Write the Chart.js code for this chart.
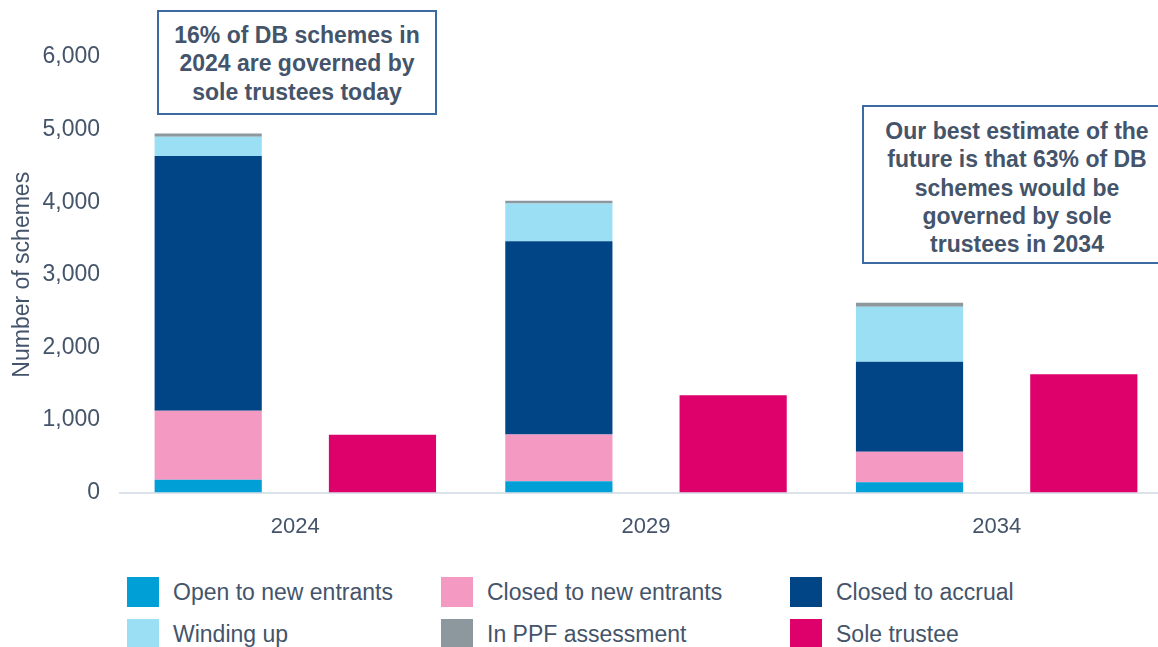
<!DOCTYPE html>
<html>
<head>
<meta charset="utf-8">
<script src="https://cdn.jsdelivr.net/npm/chart.js@4.4.1/dist/chart.umd.min.js"></script>
<style>
    body {
        margin: 0;
        width: 1158px;
        height: 647px;
        overflow: hidden;
        background: #ffffff;
        font-family: "Liberation Sans", Arial, sans-serif;
    }
    #wrap {
        position: relative;
        width: 1172px;
        height: 647px;
    }
    #chart {
        position: absolute;
        left: 0;
        top: 0;
    }
    .note {
        position: absolute;
        box-sizing: border-box;
        border: 2px solid #3d6aa3;
        background: #ffffff;
        color: #44546a;
        font-weight: bold;
        font-size: 23px;
        line-height: 28.3px;
        text-align: center;
    }
    .legend-item {
        position: absolute;
        height: 30px;
        display: flex;
        align-items: center;
        color: #44546a;
        font-size: 23px;
        white-space: nowrap;
    }
    .legend-item span.box {
        display: inline-block;
        width: 32px;
        height: 30px;
        margin-right: 14px;
    }
</style>
</head>
<body>
<div id="wrap">
    <canvas id="chart" width="1172" height="560"></canvas>

    <div class="note" style="left:157px; top:10px; width:280px; height:105px; padding-top:9px;">
        16% of DB schemes in<br>2024 are governed by<br>sole trustees today
    </div>
    <div class="note" style="left:862px; top:105px; width:310px; height:159px; padding-top:10px;">
        Our best estimate of the<br>future is that 63% of DB<br>schemes would be<br>governed by sole<br>trustees in 2034
    </div>

    <div id="legend"></div>
</div>

<script>
// Valores (número de esquemas)
const years = ['2024', '2029', '2034'];
const openNew = [175, 155, 140];
const closedNew = [950, 645, 420];
const closedAccrual = [3510, 2660, 1240];
const windingUp = [265, 520, 760];
const ppfAssessment = [45, 40, 55];
const soleTrustee = [795, 1340, 1630];

const seriesNames = [
    'Open to new entrants', 'Closed to new entrants', 'Closed to accrual',
    'Winding up', 'In PPF assessment', 'Sole trustee'
];
const seriesColors = ['#00a0d7', '#f49ac2', '#014587', '#9bdff4', '#8d979e', '#de006b'];

const textColor = '#44546a';

const ctx = document.getElementById('chart');

const datasets = [openNew, closedNew, closedAccrual, windingUp, ppfAssessment].map((values, i) => ({
    label: seriesNames[i],
    data: values,
    backgroundColor: seriesColors[i],
    stack: 'schemes'
}));
datasets.push({
    label: seriesNames[5],
    data: soleTrustee,
    backgroundColor: seriesColors[5],
    stack: 'sole'
});

const chart = new Chart(ctx, {
    type: 'bar',
    data: {
        labels: years,
        datasets: datasets
    },
    options: {
        responsive: false,
        animation: false,
        categoryPercentage: 0.994,
        barPercentage: 0.615,
        layout: {
            padding: { top: 57, left: 0, right: 0, bottom: 0 }
        },
        plugins: {
            legend: { display: false },
            tooltip: { enabled: false }
        },
        scales: {
            x: {
                stacked: true,
                grid: { display: false, drawTicks: false },
                border: { display: true, color: '#dbe2ea', width: 2 },
                ticks: {
                    color: textColor,
                    padding: 21,
                    font: { family: 'Liberation Sans', size: 22 }
                },
                afterFit: function(scale) {
                    scale.height = 67.5;
                }
            },
            y: {
                stacked: true,
                min: 0,
                max: 6000,
                grid: { display: false, drawTicks: false },
                border: { display: false },
                ticks: {
                    stepSize: 1000,
                    color: textColor,
                    padding: 20,
                    font: { family: 'Liberation Sans', size: 23 },
                    callback: function(value) {
                        return value.toLocaleString('en-GB');
                    }
                },
                title: {
                    display: true,
                    text: 'Number of schemes',
                    color: textColor,
                    padding: { top: 9, bottom: 0 },
                    font: { family: 'Liberation Sans', size: 23, weight: 'normal' }
                },
                afterFit: function(scale) {
                    scale.width = 120;
                }
            }
        }
    }
});

// Legenda em três colunas, montada a partir dos datasets
const legendPos = [
    [127, 577], [441, 577], [790, 577],
    [127, 619], [441, 619], [790, 619]
];
const legendEl = document.getElementById('legend');
seriesNames.forEach((name, i) => {
    const item = document.createElement('div');
    item.className = 'legend-item';
    item.style.left = legendPos[i][0] + 'px';
    item.style.top = legendPos[i][1] + 'px';
    const box = document.createElement('span');
    box.className = 'box';
    box.style.background = seriesColors[i];
    item.appendChild(box);
    item.appendChild(document.createTextNode(name));
    legendEl.appendChild(item);
});
</script>
</body>
</html>
